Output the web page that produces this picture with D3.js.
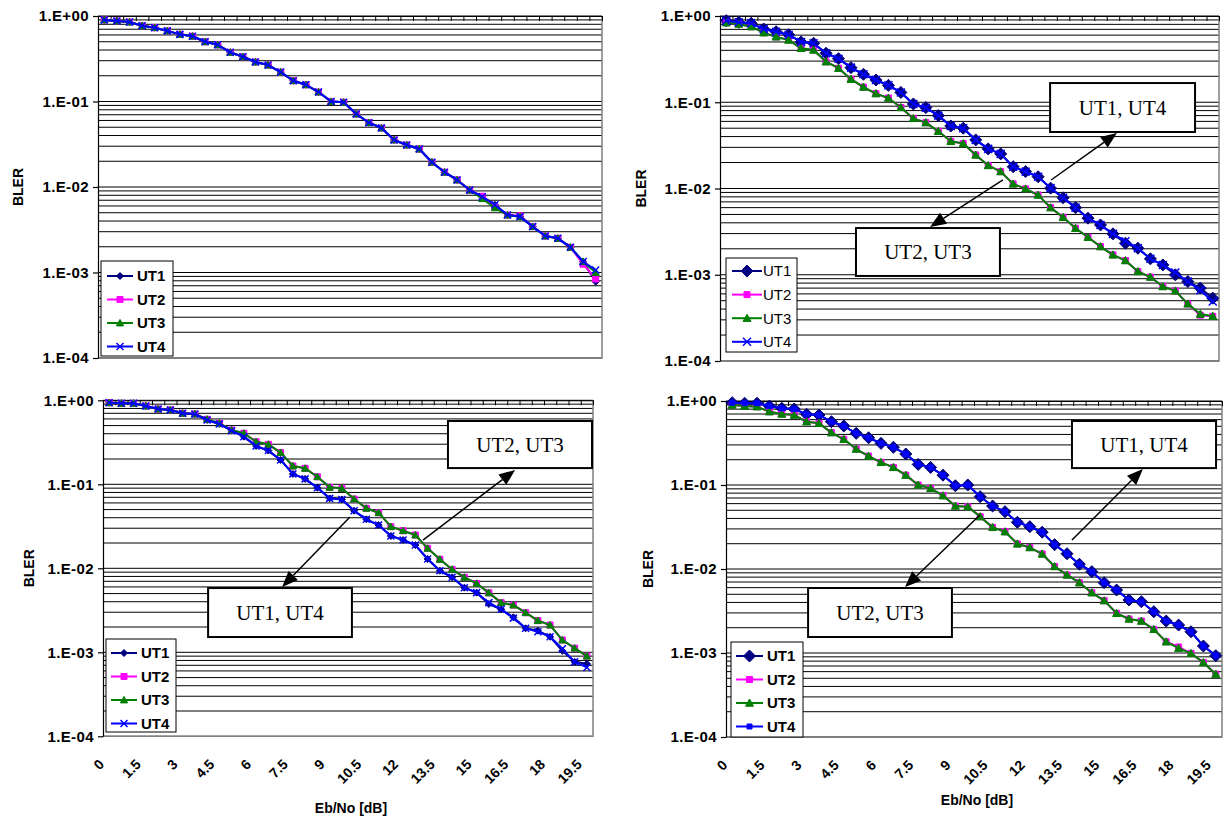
<!DOCTYPE html>
<html><head><meta charset="utf-8">
<script src="https://cdn.jsdelivr.net/npm/d3@7"></script>
<style>body{margin:0;background:#fff}svg{display:block}</style>
</head><body>
<svg id="c" width="1223" height="816"></svg>
<script>
// ---------------- DATA ----------------
const categories = [0,0.5,1,1.5,2,2.5,3,3.5,4,4.5,5,5.5,6,6.5,7,7.5,8,8.5,9,9.5,
  10,10.5,11,11.5,12,12.5,13,13.5,14,14.5,15,15.5,16,16.5,17,17.5,18,18.5,19,19.5];
const xTickLabels = ["0","1.5","3","4.5","6","7.5","9","10.5","12","13.5","15","16.5","18","19.5"];
const xTickValues = [0,1.5,3,4.5,6,7.5,9,10.5,12,13.5,15,16.5,18,19.5];
const yTickLabels = ["1.E+00","1.E-01","1.E-02","1.E-03","1.E-04"];
const yTickValues = [1,0.1,0.01,0.001,0.0001];
const seriesNames = ["UT1","UT2","UT3","UT4"];

// top-left panel
const tlUT1 = [0.90,0.875,0.85,0.77,0.73,0.67,0.61,0.58,0.50,0.46,
  0.376,0.334,0.29,0.267,0.221,0.175,0.157,0.129,0.100,0.098,
  0.0714,0.0565,0.049,0.0355,0.031,0.0278,0.0195,0.0149,0.0121,0.0092,
  0.0077,0.0062,0.0047,0.0045,0.00344,0.00267,0.00251,0.00197,0.00134,0.00078];
const tlUT2 = [0.90,0.875,0.85,0.77,0.73,0.67,0.61,0.58,0.50,0.46,
  0.376,0.334,0.29,0.267,0.221,0.175,0.157,0.129,0.100,0.098,
  0.0714,0.0565,0.049,0.0355,0.031,0.0278,0.0195,0.0149,0.0121,0.0092,
  0.0078,0.0058,0.0047,0.0046,0.00344,0.00267,0.00251,0.00197,0.00125,0.00084];
const tlUT3 = [0.90,0.875,0.85,0.77,0.73,0.67,0.61,0.58,0.50,0.46,
  0.376,0.334,0.29,0.267,0.221,0.175,0.157,0.129,0.100,0.098,
  0.0714,0.0565,0.049,0.0355,0.031,0.0278,0.0195,0.0149,0.0121,0.0092,
  0.0073,0.0057,0.0047,0.0045,0.00344,0.00267,0.00251,0.00197,0.00134,0.00100];
const tlUT4 = [0.90,0.875,0.85,0.77,0.73,0.67,0.61,0.58,0.50,0.46,
  0.376,0.334,0.29,0.267,0.221,0.175,0.157,0.129,0.100,0.098,
  0.0714,0.0565,0.049,0.0355,0.031,0.0278,0.0195,0.0149,0.0121,0.0092,
  0.0077,0.0062,0.0047,0.0045,0.00344,0.00267,0.00251,0.00197,0.00134,0.00107];

// top-right panel
const trUT1 = [0.883,0.845,0.823,0.706,0.658,0.607,0.50,0.483,0.37,0.32,
  0.252,0.211,0.181,0.157,0.130,0.0955,0.0867,0.070,0.0531,0.050,
  0.0366,0.0288,0.0252,0.0179,0.0157,0.0137,0.0101,0.0078,0.0060,0.00453,
  0.00378,0.00298,0.00232,0.00203,0.00153,0.0013,0.000998,0.000834,0.0007,0.000535];
const trUT2 = [0.836,0.808,0.752,0.64,0.573,0.527,0.422,0.404,0.295,0.248,
  0.185,0.150,0.126,0.112,0.087,0.065,0.058,0.046,0.0353,0.0332,
  0.0245,0.0185,0.0157,0.0113,0.0099,0.0084,0.0060,0.00464,0.00346,0.00272,
  0.00212,0.0017,0.00146,0.00109,0.00094,0.00073,0.00065,0.00046,0.00034,0.00033];
const trUT3 = [0.836,0.808,0.752,0.64,0.573,0.527,0.422,0.404,0.295,0.248,
  0.185,0.150,0.126,0.112,0.087,0.065,0.058,0.046,0.0353,0.0332,
  0.0245,0.0185,0.0157,0.0113,0.0099,0.0084,0.0060,0.00464,0.00346,0.00272,
  0.00212,0.0017,0.00146,0.00109,0.00094,0.00073,0.00065,0.00046,0.00035,0.00033];
const trUT4 = [0.883,0.845,0.823,0.706,0.658,0.607,0.50,0.483,0.37,0.32,
  0.252,0.211,0.181,0.157,0.130,0.0955,0.0867,0.070,0.0531,0.050,
  0.0366,0.0288,0.0252,0.0179,0.0157,0.0137,0.0101,0.0078,0.0060,0.00453,
  0.00378,0.00298,0.00245,0.00203,0.00153,0.0013,0.00106,0.000834,0.00066,0.00049];

// bottom-left panel
const blUT1 = [0.936,0.92,0.92,0.855,0.787,0.767,0.70,0.687,0.583,0.523,
  0.435,0.369,0.286,0.252,0.195,0.133,0.116,0.091,0.068,0.066,
  0.0485,0.0383,0.0327,0.0243,0.0217,0.0189,0.0129,0.00936,0.00781,0.00588,
  0.00513,0.00376,0.00325,0.00261,0.00193,0.00181,0.00153,0.00104,0.00077,0.00073];
const blUT2 = [0.936,0.92,0.92,0.855,0.787,0.77,0.70,0.687,0.594,0.532,
  0.443,0.405,0.321,0.299,0.238,0.165,0.155,0.123,0.092,0.0896,
  0.0668,0.0518,0.0459,0.0313,0.028,0.0249,0.0173,0.0128,0.0097,0.0078,
  0.0066,0.0051,0.0039,0.00365,0.00296,0.00238,0.00211,0.0014,0.00112,0.0009];
const blUT3 = [0.936,0.92,0.92,0.855,0.787,0.77,0.70,0.687,0.594,0.532,
  0.443,0.405,0.321,0.299,0.238,0.165,0.155,0.123,0.092,0.0896,
  0.0668,0.0518,0.0459,0.0313,0.028,0.0249,0.0173,0.0128,0.0097,0.0078,
  0.0066,0.0051,0.0039,0.00365,0.00296,0.00238,0.00211,0.0014,0.00112,0.0009];
const blUT4 = [0.936,0.92,0.92,0.855,0.787,0.767,0.70,0.687,0.583,0.523,
  0.435,0.369,0.286,0.252,0.195,0.133,0.116,0.091,0.068,0.066,
  0.0485,0.0383,0.0327,0.0243,0.0217,0.0189,0.0129,0.00936,0.00781,0.00588,
  0.00513,0.0039,0.00325,0.00255,0.00193,0.00176,0.00153,0.0011,0.00077,0.00066];

// bottom-right panel
const brUT1 = [0.954,0.94,0.94,0.871,0.818,0.803,0.694,0.681,0.567,0.504,
  0.412,0.365,0.313,0.281,0.234,0.176,0.162,0.131,0.098,0.100,
  0.0726,0.0562,0.0481,0.036,0.0319,0.0274,0.0195,0.0152,0.0114,0.0093,
  0.00687,0.00562,0.00428,0.00408,0.0031,0.0024,0.00215,0.00179,0.00121,0.00093];
const brUT2 = [0.896,0.871,0.855,0.746,0.70,0.681,0.567,0.542,0.42,0.35,
  0.268,0.221,0.186,0.162,0.131,0.100,0.0912,0.0746,0.0562,0.0552,
  0.042,0.0313,0.0278,0.0199,0.018,0.0151,0.0107,0.0085,0.00687,0.00522,
  0.0042,0.00297,0.00254,0.0024,0.00191,0.00136,0.00118,0.00099,0.00077,0.00056];
const brUT3 = [0.896,0.871,0.855,0.746,0.70,0.681,0.567,0.542,0.42,0.35,
  0.268,0.221,0.186,0.162,0.131,0.100,0.0912,0.0746,0.0562,0.0552,
  0.042,0.0313,0.0278,0.0199,0.018,0.0151,0.0107,0.0085,0.00687,0.00522,
  0.0042,0.00297,0.00254,0.0024,0.00191,0.00136,0.00114,0.00099,0.00077,0.00056];
const brUT4 = [0.954,0.94,0.94,0.871,0.818,0.803,0.694,0.681,0.567,0.504,
  0.412,0.365,0.313,0.281,0.234,0.176,0.162,0.131,0.098,0.100,
  0.0726,0.0562,0.0481,0.036,0.0319,0.0274,0.0195,0.0152,0.0114,0.0093,
  0.00687,0.00562,0.00428,0.00408,0.0031,0.0024,0.00215,0.00179,0.00121,0.00093];

// ---------------- STYLE / LAYOUT ----------------
const colors = ["#000080","#FF00FF","#008000","#0000FF"];
const FONT = "'Liberation Sans', Arial, sans-serif";
const SERIF = "'Liberation Serif', 'Times New Roman', serif";

const markerPath = {
  diamond: s => `M0,${-s}L${s},0L0,${s}L${-s},0Z`,
  square: s => `M${-s},${-s}H${s}V${s}H${-s}Z`,
  triangle: s => `M0,${-s}L${s},${s*0.8}L${-s},${s*0.8}Z`,
  cross: s => `M${-s},${-s}L${s},${s}M${-s},${s}L${s},${-s}`
};

const panels = [
  { l:98, t:16, r:602, b:358, data:[tlUT1,tlUT2,tlUT3,tlUT4],
    markers:[["diamond",3.5],["square",3],["triangle",3.6],["cross",3.5]],
    legend:{x:101,y:261,w:72,h:95,y0:276,dy:23.5,lx1:107,lx2:133,tx:137,bold:true},
    bler:{x:23}, xlabels:false, notes:[] },
  { l:720, t:16, r:1219, b:361, data:[trUT1,trUT2,trUT3,trUT4],
    markers:[["diamond",6],["square",3],["triangle",4],["cross",4]],
    legend:{x:726,y:258,w:71,h:94,y0:271,dy:23.6,lx1:732,lx2:762,tx:763,bold:false},
    bler:{x:646}, xlabels:false,
    notes:[
      {text:"UT1, UT4", box:[12.98,18.79,0.167,0.0452], arrow:[13.02,0.01255,15.66,0.044]},
      {text:"UT2, UT3", box:[5.20,10.97,0.00348,0.000968], arrow:[11.09,0.01255,8.17,0.00358]}
    ]},
  { l:103, t:400.3, r:593, b:736.3, data:[blUT1,blUT2,blUT3,blUT4],
    markers:[["diamond",3.5],["square",3],["triangle",3.6],["cross",3.5]],
    legend:{x:106,y:639,w:70,h:93,y0:653,dy:23.5,lx1:111,lx2:137,tx:141,bold:true},
    bler:{x:34}, xlabels:true, xtitleY:813,
    notes:[
      {text:"UT2, UT3", box:[13.83,19.71,0.567,0.156], arrow:[12.81,0.0217,16.57,0.148]},
      {text:"UT1, UT4", box:[4.04,9.91,0.00582,0.00152], arrow:[9.83,0.0408,7.06,0.00599]}
    ]},
  { l:726, t:401, r:1222, b:737, data:[brUT1,brUT2,brUT3,brUT4],
    markers:[["diamond",6],["square",3],["triangle",4],["square",2.5]],
    legend:{x:731,y:642,w:72,h:95,y0:656,dy:23.5,lx1:736,lx2:763,tx:767,bold:true},
    bler:{x:653}, xlabels:true, xtitleY:805,
    notes:[
      {text:"UT1, UT4", box:[13.70,19.51,0.578,0.159], arrow:[13.70,0.0221,16.56,0.155]},
      {text:"UT2, UT3", box:[3.06,8.86,0.00594,0.00155], arrow:[9.99,0.0439,6.97,0.0061]}
    ]}
];

const svg = d3.select("#c");

function drawPanel(p) {
  const g = svg.append("g");
  const x = d3.scaleBand().domain(categories).range([p.l, p.r]);
  const xc = d => x(d) + x.bandwidth() / 2;
  const xLin = d3.scaleLinear().domain([-0.25, 19.75]).range([p.l, p.r]);
  const y = d3.scaleLog().domain([1e-4, 1]).range([p.b, p.t]);

  // gridlines
  const grid = [];
  for (let e = -4; e < 0; e++) for (let m = 1; m < 10; m++) grid.push(m * Math.pow(10, e));
  grid.push(1);
  g.append("g").selectAll("line").data(grid).join("line")
    .attr("x1", p.l).attr("x2", p.r).attr("y1", d => y(d)).attr("y2", d => y(d))
    .attr("stroke", "#000").attr("stroke-width", 1);

  // plot border right/bottom
  g.append("path").attr("d", `M${p.r},${p.t}V${p.b}H${p.l}`)
    .attr("fill", "none").attr("stroke", "#808080").attr("stroke-width", 1.5);

  // top category axis (ticks only)
  const bounds = d3.range(41).map(k => -0.25 + 0.5 * k);
  const topAx = d3.axisBottom(xLin).tickValues(bounds).tickFormat("").tickSize(5).tickSizeOuter(0);
  const ta = g.append("g").attr("transform", `translate(0,${p.t})`).call(topAx);
  ta.selectAll("path,line").attr("stroke", "#000");

  // left value axis
  const leftAx = d3.axisLeft(y).tickValues(yTickValues)
    .tickFormat((d, i) => yTickLabels[i]).tickSize(5).tickSizeOuter(0).tickPadding(4);
  const la = g.append("g").attr("transform", `translate(${p.l},0)`).call(leftAx);
  la.selectAll("path,line").attr("stroke", "#000").attr("stroke-width", 1.2);
  la.selectAll("text").attr("font-family", FONT).attr("font-weight", "bold")
    .attr("font-size", 15).attr("fill", "#000").attr("letter-spacing", 0.4);

  // BLER label
  g.append("text").attr("transform", `translate(${p.bler.x},${(p.t + p.b) / 2}) rotate(-90)`)
    .attr("text-anchor", "middle").attr("font-family", FONT).attr("font-weight", "bold")
    .attr("font-size", 14).text("BLER");

  // x labels
  if (p.xlabels) {
    g.append("g").selectAll("text").data(xTickValues).join("text")
      .attr("transform", (d) => `translate(${xc(d) - 4},${p.b + 29}) rotate(-45)`)
      .attr("text-anchor", "end").attr("font-family", FONT).attr("font-weight", "bold")
      .attr("font-size", 14).text((d, i) => xTickLabels[i]);
    g.append("text").attr("x", (p.l + p.r) / 2 + 3).attr("y", p.xtitleY)
      .attr("text-anchor", "middle").attr("font-family", FONT).attr("font-weight", "bold")
      .attr("font-size", 14).text("Eb/No [dB]");
  }

  // series
  const line = d3.line().x((d, i) => xc(categories[i])).y(d => y(d));
  p.data.forEach((vals, si) => {
    const sg = g.append("g");
    sg.append("path").attr("d", line(vals)).attr("fill", "none")
      .attr("stroke", colors[si]).attr("stroke-width", 2).attr("stroke-linejoin", "round");
    const [mt, ms] = p.markers[si];
    sg.selectAll("path.m").data(vals).join("path").attr("class", "m")
      .attr("transform", (d, i) => `translate(${xc(categories[i])},${y(d)})`)
      .attr("d", markerPath[mt](ms))
      .attr("fill", mt === "cross" ? "none" : colors[si])
      .attr("stroke", colors[si]).attr("stroke-width", mt === "cross" ? 1.5 : 1);
  });

  // legend
  const L = p.legend;
  const lg = g.append("g");
  lg.append("rect").attr("x", L.x).attr("y", L.y).attr("width", L.w).attr("height", L.h)
    .attr("fill", "#fff").attr("stroke", "#000").attr("stroke-width", 1);
  seriesNames.forEach((name, si) => {
    const yy = L.y0 + si * L.dy;
    lg.append("line").attr("x1", L.lx1).attr("x2", L.lx2).attr("y1", yy).attr("y2", yy)
      .attr("stroke", colors[si]).attr("stroke-width", 2);
    const [mt, ms] = p.markers[si];
    lg.append("path").attr("transform", `translate(${(L.lx1 + L.lx2) / 2},${yy})`)
      .attr("d", markerPath[mt](ms)).attr("fill", mt === "cross" ? "none" : colors[si])
      .attr("stroke", colors[si]).attr("stroke-width", mt === "cross" ? 1.5 : 1);
    lg.append("text").attr("x", L.tx).attr("y", yy).attr("dy", "0.36em")
      .attr("font-family", FONT).attr("font-weight", L.bold ? "bold" : "normal")
      .attr("font-size", 15).text(name);
  });

  // annotations
  p.notes.forEach(n => {
    const [x0, x1, y0, y1] = n.box;
    const bx = xLin(x0), bw = xLin(x1) - xLin(x0), by = y(y0), bh = y(y1) - y(y0);
    const [ax0, ay0, ax1, ay1] = n.arrow;
    const sx = xLin(ax0), sy = y(ay0), ex = xLin(ax1), ey = y(ay1);
    const ang = Math.atan2(ey - sy, ex - sx);
    const hl = 16, hw = 6.5;
    const bxp = ex - hl * Math.cos(ang), byp = ey - hl * Math.sin(ang);
    g.append("line").attr("x1", sx).attr("y1", sy).attr("x2", bxp).attr("y2", byp)
      .attr("stroke", "#000").attr("stroke-width", 1.5);
    g.append("path").attr("d",
      `M${ex},${ey}L${bxp + hw * Math.sin(ang)},${byp - hw * Math.cos(ang)}L${bxp - hw * Math.sin(ang)},${byp + hw * Math.cos(ang)}Z`)
      .attr("fill", "#000");
    g.append("rect").attr("x", bx).attr("y", by).attr("width", bw).attr("height", bh)
      .attr("fill", "#fff").attr("stroke", "#000").attr("stroke-width", 2);
    g.append("text").attr("x", bx + bw / 2).attr("y", by + bh / 2).attr("dy", "0.35em")
      .attr("text-anchor", "middle").attr("font-family", SERIF).attr("font-size", 21)
      .text(n.text);
  });
}

panels.forEach(drawPanel);
</script>
</body></html>
